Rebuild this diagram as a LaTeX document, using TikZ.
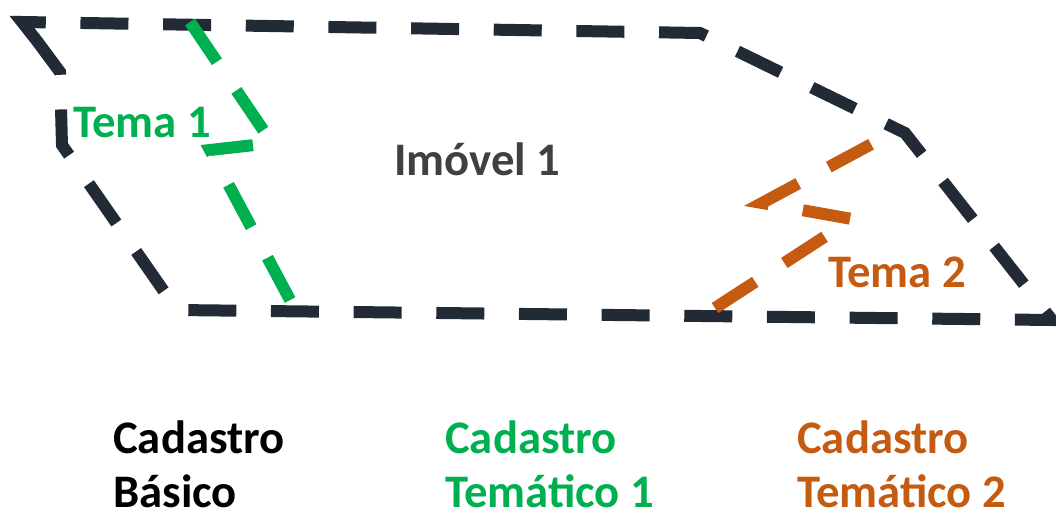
\documentclass[tikz,border=0pt]{standalone}
\usepackage{fontspec}
\setmainfont{Carlito}
\usetikzlibrary{positioning}

\definecolor{borda}{HTML}{222A35}
\definecolor{verde}{HTML}{00B050}
\definecolor{laranja}{HTML}{C55A11}
\definecolor{cinza}{HTML}{404040}

\begin{document}
\begin{tikzpicture}[x=0.75pt, y=-0.75pt,
  contorno/.style={line width=9pt, dash pattern=on 36pt off 26pt, line join=miter},
  rotulo/.style={inner sep=0pt, anchor=base west, font=\fontsize{35}{42}\selectfont\bfseries},
  legenda/.style={rotulo}
]
\useasboundingbox (0,0) rectangle (1056,514);

% cadastro basico (imovel)
\coordinate (b0) at (37,41);
\coordinate (b1) at (22,22);
\coordinate (b2) at (700,33);
\coordinate (b3) at (905,133);
\coordinate (b4) at (1052,320);
\coordinate (b5) at (177,310);
\coordinate (b6) at (62,145);
\coordinate (b7) at (60,72);
\draw[contorno, borda] (b0) -- (b1) -- (b2) -- (b3) -- (b4) -- (b5) -- (b6) -- (b7) -- cycle;

% tema 1
\coordinate (v1) at (190,22);
\coordinate (v2) at (272,143);
\coordinate (v3) at (210,150);
\coordinate (v4) at (297,313);
\draw[contorno, verde] (v1) -- (v2) -- (v3) -- (v4);

% tema 2
\coordinate (l1) at (715,308);
\coordinate (l2) at (852,219);
\coordinate (l3) at (762,203);
\coordinate (l4) at (892,133);
\draw[contorno, laranja] (l1) -- (l2) -- (l3) -- (l4);

% rotulos
\node[rotulo, text=verde] (tema1) at (73,137) {Tema 1};
\node[rotulo, text=cinza] (imovel) at (394,175) {Imóvel 1};
\node[rotulo, text=laranja] (tema2) at (828,287) {Tema 2};

% legendas
\node[legenda, text=black] (basA) at (113,453) {Cadastro};
\node[legenda, text=black] (basB) at (113,507) {Básico};
\node[legenda, text=verde] (tem1A) at (445,453) {Cadastro};
\node[legenda, text=verde] (tem1B) at (445,507) {Temático 1};
\node[legenda, text=laranja] (tem2A) at (797,453) {Cadastro};
\node[legenda, text=laranja] (tem2B) at (797,507) {Temático 2};
\end{tikzpicture}
\end{document}
